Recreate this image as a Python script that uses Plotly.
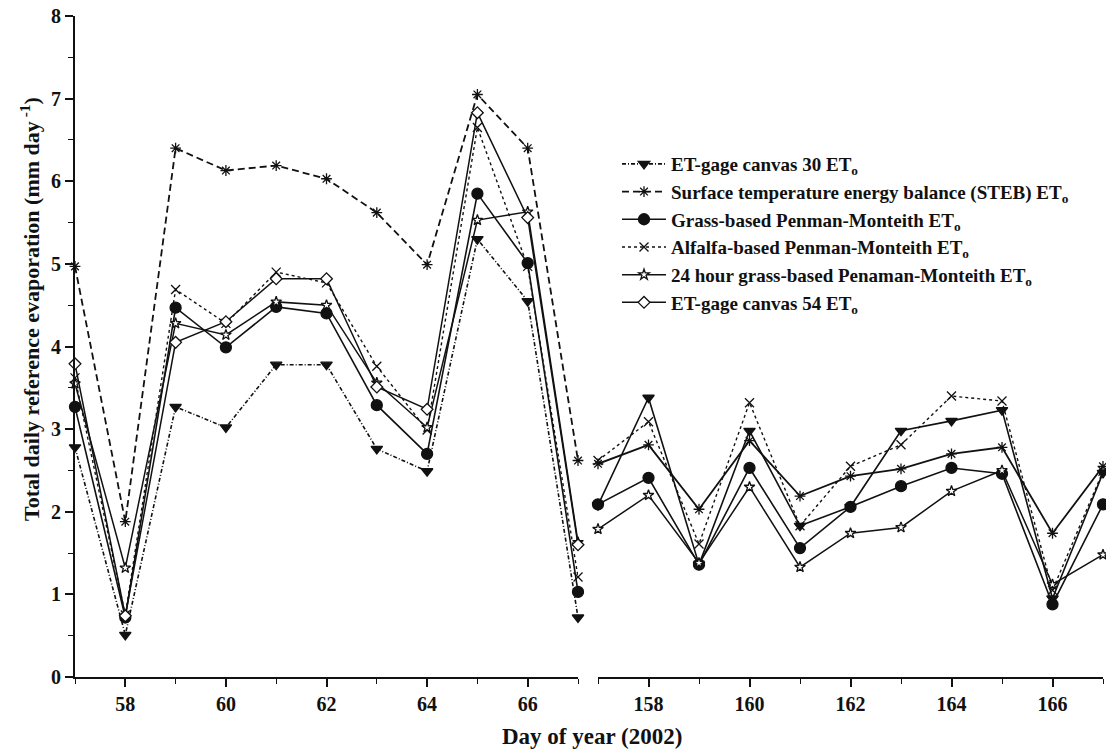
import plotly.graph_objects as go

# ---------------- data ----------------
days_a = [57, 58, 59, 60, 61, 62, 63, 64, 65, 66, 67]
days_b = [157, 158, 159, 160, 161, 162, 163, 164, 165, 166, 167]

et30_a = [2.78, 0.51, 3.27, 3.02, 3.78, 3.78, 2.76, 2.49, 5.30, 4.55, 0.72]
steb_a = [4.97, 1.88, 6.40, 6.13, 6.19, 6.03, 5.62, 4.99, 7.05, 6.40, 2.62]
grass_a = [3.27, 0.72, 4.47, 3.99, 4.48, 4.40, 3.29, 2.70, 5.85, 5.01, 1.03]
alfalfa_a = [3.62, 0.75, 4.69, 4.28, 4.90, 4.77, 3.76, 2.99, 6.65, 4.97, 1.21]
h24_a = [3.55, 1.32, 4.28, 4.14, 4.54, 4.50, 3.56, 3.02, 5.53, 5.63, 1.63]
et54_a = [3.79, 0.74, 4.05, 4.30, 4.82, 4.82, 3.51, 3.24, 6.83, 5.56, 1.60]

et30_b = [2.08, 3.38, 1.36, 2.98, 1.83, 2.06, 2.98, 3.10, 3.23, 0.95, 2.47]
steb_b = [2.58, 2.81, 2.03, 2.86, 2.19, 2.43, 2.52, 2.70, 2.78, 1.74, 2.55]
grass_b = [2.09, 2.41, 1.36, 2.53, 1.56, 2.06, 2.31, 2.53, 2.46, 0.88, 2.09]
alfalfa_b = [2.62, 3.09, 1.61, 3.32, 1.83, 2.55, 2.81, 3.40, 3.34, 1.05, 2.49]
h24_b = [1.79, 2.20, 1.38, 2.30, 1.33, 1.74, 1.81, 2.25, 2.50, 1.12, 1.48]

names = [
    "ET-gage canvas 30 ET<sub>o</sub>",
    "Surface temperature energy balance (STEB) ET<sub>o</sub>",
    "Grass-based Penman-Monteith ET<sub>o</sub>",
    "Alfalfa-based Penman-Monteith ET<sub>o</sub>",
    "24 hour grass-based Penaman-Monteith ET<sub>o</sub>",
    "ET-gage canvas 54 ET<sub>o</sub>",
]

y_ticks = [0, 1, 2, 3, 4, 5, 6, 7, 8]
x_ticks_a = [58, 60, 62, 64, 66]
x_ticks_b = [158, 160, 162, 164, 166]

x_title = "Day of year (2002)"
y_title = "Total daily reference evaporation (mm day<sup> -1</sup>)"

# ---------------- styles ----------------
FONT = "Liberation Serif"
BLK = "#111111"
styles = [
    dict(symbol="triangle-down", size=10, color=BLK, dash="4px,2px,1px,2px", width=1.6),
    dict(symbol="asterisk-open", size=9, color=BLK, dash="7px,4px", width=1.8),
    dict(symbol="circle", size=11, color=BLK, dash="solid", width=1.6),
    dict(symbol="x-thin-open", size=9, color=BLK, dash="dot", width=1.4),
    dict(symbol="star", size=8, color="white", dash="solid", width=1.5),
    dict(symbol="diamond", size=9, color="white", dash="solid", width=1.5),
]
right_dash = ["solid", "solid", "solid", "dot", "solid"]

fig = go.Figure()

series_a = [et30_a, steb_a, grass_a, alfalfa_a, h24_a, et54_a]
series_b = [et30_b, steb_b, grass_b, alfalfa_b, h24_b]

for nm, ys, st in zip(names, series_a, styles):
    fig.add_trace(go.Scatter(
        x=days_a, y=ys, name=nm, mode="lines+markers",
        line=dict(color=BLK, width=st["width"], dash=st["dash"]),
        marker=dict(symbol=st["symbol"], size=st["size"], color=st["color"],
                    line=dict(color=BLK, width=1.3)),
        xaxis="x", yaxis="y", cliponaxis=False,
    ))

for i, ys in enumerate(series_b):
    st = styles[i]
    fig.add_trace(go.Scatter(
        x=days_b, y=ys, name=names[i], mode="lines+markers", showlegend=False,
        line=dict(color=BLK, width=st["width"], dash=right_dash[i]),
        marker=dict(symbol=st["symbol"], size=st["size"], color=st["color"],
                    line=dict(color=BLK, width=1.3)),
        xaxis="x2", yaxis="y2", cliponaxis=False,
    ))

W, H = 1106, 751
ml, mr, mt, mb = 75, 3, 16, 74
pw = W - ml - mr
ph = H - mt - mb
d1 = (578 - 75) / pw
d2 = (598 - 75) / pw


def px(xp):
    return (xp - ml) / pw


def py(yp):
    return 1 - (yp - mt) / ph


tickfont = dict(family=FONT, size=20, color=BLK, weight="bold")
common_x = dict(
    showline=True, linecolor=BLK, linewidth=2, ticks="outside", ticklen=8, tickwidth=1.6,
    tickcolor=BLK, showgrid=False, zeroline=False, tickfont=tickfont,
    minor=dict(ticks="outside", ticklen=5, tickwidth=1.4, tickcolor=BLK, dtick=1, showgrid=False),
)

fig.update_layout(
    width=W, height=H, autosize=False, paper_bgcolor="white", plot_bgcolor="white",
    margin=dict(l=ml, r=mr, t=mt, b=mb),
    font=dict(family=FONT, color=BLK),
    xaxis=dict(domain=[0, d1], range=[57, 67], tickvals=x_ticks_a, anchor="y", **common_x),
    xaxis2=dict(domain=[d2, 1], range=[157, 167], tickvals=x_ticks_b, anchor="y2", **common_x),
    yaxis=dict(domain=[0, 1], range=[0, 8], tickvals=y_ticks, showline=True, linecolor=BLK,
               linewidth=2, ticks="outside", ticklen=8, tickwidth=1.6, tickcolor=BLK,
               showgrid=False, zeroline=False, tickfont=tickfont, anchor="x",
               minor=dict(ticks="outside", ticklen=5, tickwidth=1.4, tickcolor=BLK, dtick=0.5,
                          showgrid=False)),
    yaxis2=dict(domain=[0, 1], range=[0, 8], anchor="x2", visible=False),
    legend=dict(x=px(617), y=py(145), xanchor="left", yanchor="top",
                font=dict(family=FONT, size=19, color=BLK, weight="bold"),
                bgcolor="rgba(0,0,0,0)", tracegroupgap=0, itemwidth=44),
    showlegend=True,
    annotations=[
        dict(text=x_title, x=px(592), y=py(736), xref="paper", yref="paper",
             xanchor="center", yanchor="middle",
             showarrow=False, font=dict(family=FONT, size=23, color=BLK, weight="bold")),
        dict(text=y_title, textangle=-90, x=px(30), y=py(309), xref="paper", yref="paper",
             xanchor="center", yanchor="middle",
             showarrow=False, font=dict(family=FONT, size=22, color=BLK, weight="bold")),
    ],
)

post = ("document.body.style.margin='0';document.body.style.padding='0';"
        "document.body.style.overflow='hidden';"
        "var gd=document.getElementById('{plot_id}');"
        "Plotly.relayout(gd,{width:1106,height:751});")
fig.write_html("out.html", post_script=post,
               config={"responsive": False, "displayModeBar": False})
